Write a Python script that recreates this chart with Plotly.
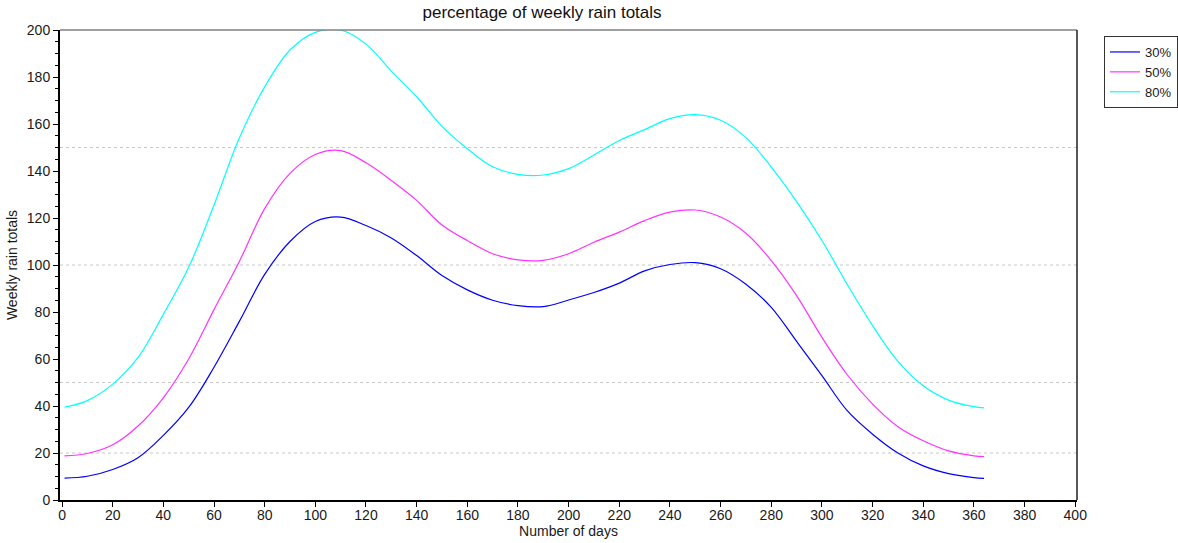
import plotly.graph_objects as go

# ---- data ----
days = [1, 10, 20, 30, 40, 50, 60, 70, 80, 90, 100, 110, 120, 130, 140, 150, 160, 170, 180,
        190, 200, 210, 220, 230, 240, 250, 260, 270, 280, 290, 300, 310, 320, 330, 340, 350, 360, 364]

p30 = [9.3, 10.1, 13.0, 18.0, 27.5, 39.4, 56.5, 76.0, 96.0, 110.0, 118.5, 120.4, 116.8, 111.5,
       104.0, 95.5, 89.4, 85.0, 82.7, 82.3, 85.1, 88.3, 92.3, 97.5, 100.2, 101.0, 98.4, 91.8,
       82.0, 67.5, 52.9, 38.0, 28.0, 20.0, 14.5, 11.2, 9.5, 9.2]

p50 = [18.8, 19.8, 23.5, 31.5, 43.5, 60.0, 81.0, 101.5, 124.0, 139.0, 147.0, 148.7, 143.5, 136.0,
       127.5, 117.0, 110.4, 104.8, 102.2, 102.0, 104.8, 109.7, 114.0, 118.9, 122.5, 123.4, 120.4,
       113.5, 101.9, 87.0, 69.2, 53.3, 40.8, 31.2, 25.2, 20.9, 18.8, 18.5]

p80 = [39.5, 42.3, 49.3, 60.7, 79.0, 99.0, 125.5, 154.0, 175.8, 191.5, 199.0, 200.0, 194.0, 182.5,
       171.6, 159.0, 149.5, 141.8, 138.6, 138.3, 141.0, 146.8, 153.0, 157.6, 162.3, 164.0, 161.6,
       154.2, 141.7, 127.0, 110.4, 91.7, 74.2, 59.0, 48.6, 42.5, 39.7, 39.2]

series_names = ["30%", "50%", "80%"]
series_colors = ["#0000ff", "#ff33ff", "#00ffff"]

grid_values = [20, 50, 100, 150]
x_ticks = list(range(0, 401, 20))
y_ticks = list(range(0, 201, 20))

FONT = "Liberation Sans, Arial, sans-serif"

fig = go.Figure()
for name, vals, col in zip(series_names, [p30, p50, p80], series_colors):
    fig.add_trace(go.Scatter(x=days, y=vals, mode="lines", name=name,
                             line=dict(color=col, width=1.2, shape="spline", smoothing=1.0)))

shapes = []
for g in grid_values:
    shapes.append(dict(type="line", xref="paper", yref="y", x0=0, x1=1, y0=g, y1=g,
                       line=dict(color="#c8c8c8", width=1, dash="3px,3px"), layer="below"))
# top and right frame
shapes.append(dict(type="line", xref="paper", yref="paper", x0=0, x1=1, y0=1, y1=1,
                   line=dict(color="#808080", width=1.5)))
shapes.append(dict(type="line", xref="paper", yref="paper", x0=1, x1=1, y0=0, y1=1,
                   line=dict(color="#202020", width=1.5)))

fig.update_layout(
    width=1178, height=543,
    margin=dict(l=60, r=101, t=30, b=43),
    paper_bgcolor="white", plot_bgcolor="white",
    font=dict(family=FONT, size=14, color="#1a1a1a"),
    title=dict(text="percentage of weekly rain totals", x=0.474, xanchor="center",
               xref="paper", y=1 - 12 / 543, yanchor="middle", yref="container",
               font=dict(size=17, color="#111111")),
    shapes=shapes,
    showlegend=True,
    legend=dict(xref="container", yref="container", x=1104 / 1178, y=1 - 36 / 543,
                xanchor="left", yanchor="top", bordercolor="#333333", borderwidth=1,
                bgcolor="white", font=dict(size=13), itemwidth=30, tracegroupgap=0),
)

fig.update_xaxes(range=[-0.8, 400.7], tickvals=x_ticks, ticks="outside", ticklen=5,
                 tickcolor="#000000", showline=True, linecolor="#000000", linewidth=2,
                 showgrid=False, zeroline=False, automargin=False, ticklabelstandoff=-4,
                 title=dict(text="Number of days", font=dict(size=14), standoff=0))
fig.update_yaxes(range=[0, 200], tickvals=y_ticks, ticks="outside", ticklen=5,
                 tickcolor="#000000", showline=True, linecolor="#000000", linewidth=2,
                 showgrid=False, zeroline=False, automargin=False,
                 minor=dict(dtick=5, ticks="outside", ticklen=3, tickcolor="#000000", showgrid=False),
                 title=dict(text="Weekly rain totals", font=dict(size=14), standoff=6))

fig.write_html("out.html")
